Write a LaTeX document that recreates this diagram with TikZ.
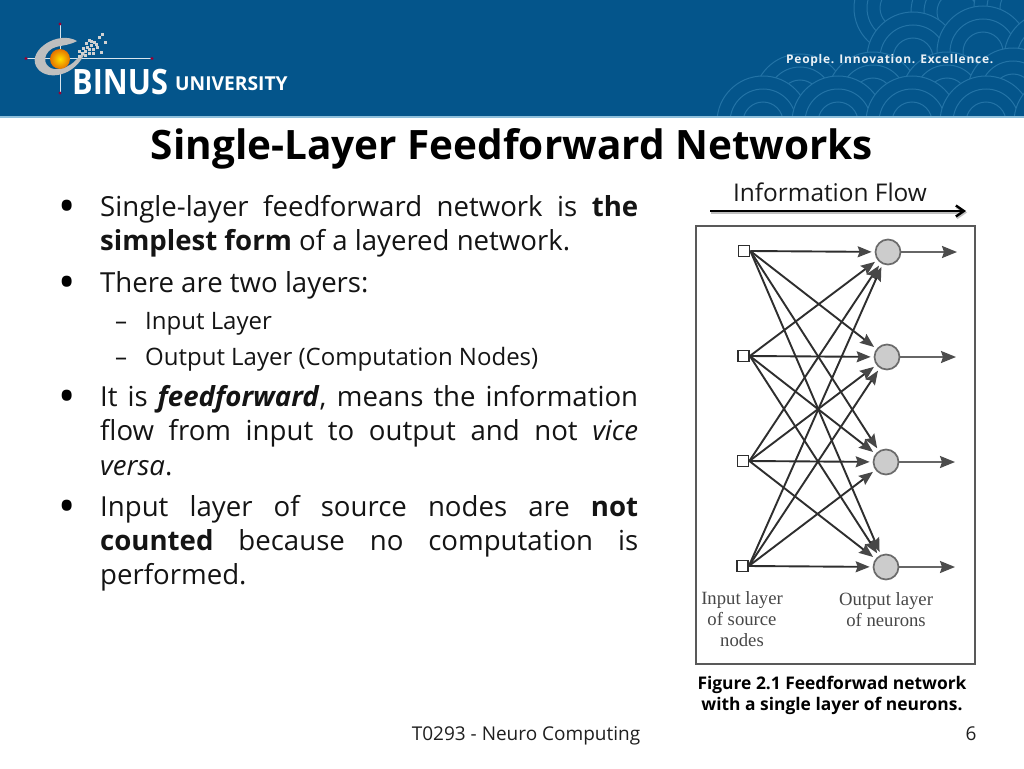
\documentclass[tikz,border=0pt]{standalone}
\usepackage{fontspec}
\setmainfont{Open Sans}
\newfontfamily\serifx{Liberation Serif}
\newfontfamily\spacedb[LetterSpace=6]{Open Sans}
\usetikzlibrary{arrows.meta}
\definecolor{hdr}{HTML}{04558B}
\definecolor{scal}{HTML}{2373A6}
\definecolor{strip}{HTML}{8FC0DC}
\definecolor{netc}{HTML}{2E2E2E}
\newcommand{\jl}[2][538pt]{\makebox[#1][s]{#2}}
\tikzset{
  body/.style={anchor=base west,inner sep=0pt,font=\fontsize{27.6}{27.6}\selectfont,text=black!92},
  subb/.style={anchor=base west,inner sep=0pt,font=\fontsize{24}{24}\selectfont,text=black!92},
  bull/.style={anchor=base,inner sep=0pt,font=\fontsize{46}{46}\selectfont},
  inp/.style={draw=netc,line width=1.7pt,fill=white,minimum size=11pt,inner sep=0pt,rectangle},
  outp/.style={circle,draw=black!58,line width=1.7pt,fill=black!20,minimum size=25pt,inner sep=0pt},
  syn/.style={draw=netc,line width=1.9pt,-{Stealth[length=14pt,width=11pt,inset=2pt,color=black!72]},shorten >=3pt},
  outarr/.style={draw=black!60,line width=1.9pt,-{Stealth[length=15pt,width=12pt,inset=2pt,color=black!70]}},
  lab/.style={anchor=base,inner sep=0pt,text=black!72,font=\serifx\fontsize{18.7}{18.7}\selectfont},
  capt/.style={anchor=base,inner sep=0pt,font=\bfseries\fontsize{17.4}{17.4}\selectfont},
  foot/.style={anchor=base,inner sep=0pt,font=\fontsize{19}{19}\selectfont,text=black!88},
  pix/.style={fill=black!18,draw=none}
}
\begin{document}
\begin{tikzpicture}[x=1pt,y=-1pt]
\useasboundingbox (0,0) rectangle (1024,768);
\fill[white] (0,0) rectangle (1024,768);
% header
\fill[hdr] (0,0) rectangle (1024,116);
\begin{scope}
\clip (0,0) rectangle (1024,116);
\foreach \cx/\cy in {900/8,957/12,1020/8,
  913/58,983/52,1050/58,
  800/100,873/98,947/98,1013/94,
  763/122,838/122,912/122,986/122,1060/122}{
  \fill[hdr] (\cx,\cy) circle (46);
  \draw[scal,line width=1pt] (\cx,\cy) circle (46) (\cx,\cy) circle (33) (\cx,\cy) circle (20);
}
\end{scope}
\fill[strip] (0,115.5) rectangle (1024,117.5);
% logo
\draw[white!85!hdr,line width=1pt] (60,24) -- (60,93) (26,58.5) -- (152,58.5);
\fill[black!25] (77,41) .. controls (58,30) and (28,50) .. (36,66) .. controls (44,82) and (76,78) .. (86,50)
  .. controls (78,56) and (72,70) .. (54,69) .. controls (40,66) and (44,50) .. (56,47) .. controls (64,45) and (70,45) .. (77,41) -- cycle;
\foreach \px/\py in {60/24,60/93,26/58.5,152/58.5}{\fill[purple!80!black] (\px,\py) circle (1.7);}
\shade[inner color=yellow!75!orange,outer color=orange!90!black] (60,59) circle (10);
\foreach \px/\py in {78/55,81/52,84/50,78/50,82/47,86/46,88/52,90/44,85/42,92/48,93/41,96/46,98/36,100/51,101/33,104/41,88/39,84/54,88/48,92/52,95/43,90/40}{
  \fill[pix] (\px,\py) rectangle ++(2.6,2.6);}
\node[anchor=base west,inner sep=0pt,text=white,font=\bfseries\fontsize{33}{33}\selectfont] (binus) at (72,94.5) {\scalebox{0.93}[1.06]{BINUS}};
\node[anchor=base west,inner sep=0pt,text=white,font=\bfseries\fontsize{19.2}{19.2}\selectfont] (univ) at (175,90.5) {UNIVERSITY};
\node[anchor=base west,inner sep=0pt,text=white!92!hdr,font=\spacedb\bfseries\fontsize{12}{12}\selectfont] (motto) at (786,63.8) {People. Innovation. Excellence.};
% title
\node[anchor=base,inner sep=0pt,font=\bfseries\fontsize{40.5}{40.5}\selectfont,text=black] (title) at (512,159) {Single-Layer Feedforward Networks};
% bullets
\node[bull] (b1) at (67,222) {•};
\node[body] (l1) at (100,216) {\jl{Single-layer feedforward network is \textbf{the}}};
\node[body] (l2) at (100,250.5) {\textbf{simplest form} of a layered network.};
\node[bull] (b2) at (67,298) {•};
\node[body] (l3) at (100,292) {There are two layers:};
\node[subb,anchor=base] (d1) at (121,329) {–};
\node[subb] (s1) at (145,329) {Input Layer};
\node[subb,anchor=base] (d2) at (121,365) {–};
\node[subb] (s2) at (145,365) {Output Layer (Computation Nodes)};
\node[bull] (b3) at (67,412) {•};
\node[body] (l4) at (100,406) {\jl{It is \textbf{\textit{feedforward}}, means the information}};
\node[body] (l5) at (100,440.5) {\jl{flow from input to output and not \textit{vice}}};
\node[body] (l6) at (100,475) {\textit{versa}.};
\node[bull] (b4) at (67,522) {•};
\node[body] (l7) at (100,516) {\jl{Input layer of source nodes are \textbf{not}}};
\node[body] (l8) at (100,550) {\jl{\textbf{counted} because no computation is}};
\node[body] (l9) at (100,584) {performed.};
% info flow
\node[anchor=base,inner sep=0pt,font=\fontsize{24.4}{24.4}\selectfont,text=black!90] (info) at (830,201) {Information Flow};
\coordinate (fa) at (710,211);
\coordinate (fb) at (966,211);
\draw[black!25,line width=2.6pt,-{Straight Barb[length=8pt,width=11pt]}] ([shift={(1,1.5)}]fa) -- ([shift={(1,1.5)}]fb);
\draw[black,line width=2.4pt,-{Straight Barb[length=8pt,width=11pt]}] (fa) -- (fb);
% figure frame
\node[draw=black!65,line width=2pt,fill=white,inner sep=0pt,minimum width=279pt,minimum height=438pt,anchor=north west,outer sep=0pt] (frame) at (695.5,225.5) {};
% network
\node[inp] (i1) at (744,251) {};
\node[inp] (i2) at (743.5,356) {};
\node[inp] (i3) at (743,461) {};
\node[inp] (i4) at (742.5,566) {};
\node[outp] (o1) at (888,252) {};
\node[outp] (o2) at (887,357) {};
\node[outp] (o3) at (886,462) {};
\node[outp] (o4) at (886,567) {};
\foreach \a in {1,2,3,4}{\foreach \b in {1,2,3,4}{
  \draw[syn] (i\a.east) -- (o\b);
}}
\coordinate (e1) at (957,252);
\coordinate (e2) at (956,357);
\coordinate (e3) at (955,462);
\coordinate (e4) at (955,567);
\foreach \b in {1,2,3,4}{\draw[outarr] (o\b) -- (e\b);}
\node[lab] (la) at (742,604.5) {Input layer};
\node[lab] (lb) at (742,625) {of source};
\node[lab] (lc) at (742,646) {nodes};
\node[lab] (ld) at (886,605.5) {Output layer};
\node[lab] (le) at (886,626) {of neurons};
% captions
\node[capt] (c1) at (832,689.5) {Figure 2.1 Feedforwad network};
\node[capt] (c2) at (832,710.5) {with a single layer of neurons.};
% footer
\node[foot] (f1) at (526,740) {T0293 - Neuro Computing};
\node[foot] (f2) at (971,740) {6};
\end{tikzpicture}
\end{document}
